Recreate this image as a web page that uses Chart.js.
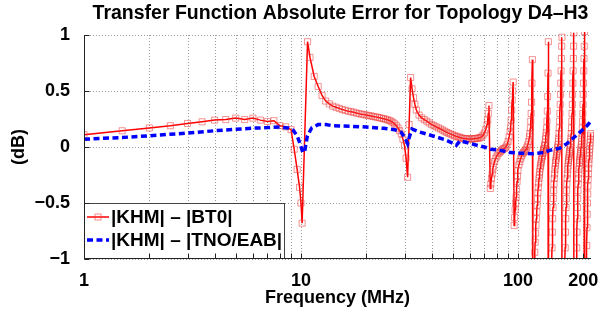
<!DOCTYPE html>
<html><head><meta charset="utf-8">
<script src="https://cdn.jsdelivr.net/npm/chart.js@4.4.0/dist/chart.umd.min.js"></script>
<style>html,body{margin:0;padding:0;background:#fff}</style>
</head><body>
<canvas id="c" width="614" height="313"></canvas>
<script>
// ---------- data ----------
const titleText = 'Transfer Function Absolute Error for Topology D4\u2013H3';
const xAxisTitle = 'Frequency (MHz)';
const yAxisTitle = '(dB)';
const seriesNames = ['|KHM| \u2013 |BT0|', '|KHM| \u2013 |TNO/EAB|'];

const xTickValues = [1,2,3,4,5,6,7,8,9,10,20,30,40,50,60,70,80,90,100,200];
const xTickLabels = ['1','','','','','','','','','10','','','','','','','','','100','200'];
const yTickValues = [-1,-0.5,0,0.5,1];
const yTickLabels = ['\u22121','\u22120.5','0','0.5','1'];

// |KHM| - |BT0|  (frequency in MHz, error in dB)
const freqBT0 = [
1.0,1.5,2.0,2.5,3.0,3.5,4.0,4.5,5.0,5.5,6.0,6.5,7.0,7.5,8.0,8.5,
9.0,9.3,9.6,9.85,10.0,10.12,10.72,11.0,11.5,12.0,12.5,13.0,13.5,14.0,14.5,
15,15.5,16,16.5,17,17.5,18,18.5,19,19.5,20,20.5,21,21.5,22,22.5,23,23.5,24,24.5,
25,25.5,26,26.5,27,27.5,28,28.5,29,29.5,30,30.5,31,31.5,32,
32.5,33,33.5,34,35,36,37,38,39,40,41,42,43,44,45,46,47,48,49,50,51,52,53,54,55,
56,57,58,59,60,61,62,63,64,65,66,67,68,69,70,71,72,72.5,73,73.5,
74.5,75,75.5,76,76.5,77,78,79,80,81,82,83,84,85,86,87,88,89,90,91,92,92.5,93,93.5,94,94.5,95,
96,96.5,97,97.5,98,98.5,99,99.5,100,101,102,103,104,105,106,107,108,109,110,111,112,113,113.5,114,114.5,115,115.5,116,116.5,
117,117.5,118,118.5,119,119.5,120,120.5,121,121.5,122,122.5,123,123.5,124,124.5,125,125.5,126,126.5,127,127.5,128,128.5,129,129.5,130,130.5,131,131.5,132,132.5,133,133.5,134,134.5,135,135.5,136,136.5,137,137.5,138,
138.5,139,139.5,140,140.5,141,141.5,142,142.5,143,143.5,144,144.5,145,145.5,146,146.5,147,147.5,148,148.5,149,149.5,150,150.5,151,151.5,152,152.5,153,153.5,154,154.5,155,155.5,156,156.5,157,157.5,158,158.5,159,159.5,
160,160.5,161,161.5,162,162.5,163,163.5,164,164.5,165,165.5,166,166.5,167,167.5,168,168.5,169,169.5,170,170.5,171,171.5,172,172.5,173,173.5,174,174.5,175,175.5,176,176.5,177,177.5,178,178.5,179,179.5,180,180.5,181,
181.5,182,182.5,183,183.5,184,184.5,185,185.5,186,186.5,187,187.5,188,188.5,189,189.5,190,190.5,191,191.5,192,192.5,193,193.5,194,194.5,195,195.5,196,196.5,197,197.5,198,198.5,199,199.5,200,200.5,201,201.5,202,202.5,
203,203.5,204,204.5,205,205.5,206,206.5,207,207.5,208,208.5,209,209.5,210,210.5,211,211.5,212,212.5,213,213.5,214,214.5,215,215.5,216,216.5
];
const errBT0 = [
0.11,0.145,0.17,0.19,0.21,0.225,0.24,0.245,0.258,0.245,0.258,0.24,0.228,0.235,0.19,0.18,
0.155,-0.02,-0.2,-0.36,-0.5,-0.68,0.94,0.8,0.63,0.54,0.46,0.41,0.385,0.365,0.355,
0.345,0.335,0.327,0.32,0.315,0.31,0.303,0.298,0.293,0.289,0.285,0.281,0.277,0.273,0.269,0.265,0.261,0.257,0.253,0.248,
0.243,0.237,0.23,0.22,0.207,0.19,0.17,0.145,0.115,0.07,0.01,-0.1,-0.27,0.2,0.62,
0.52,0.44,0.38,0.33,0.285,0.26,0.245,0.23,0.215,0.2,0.19,0.18,0.17,0.16,0.15,0.14,0.13,0.122,0.115,0.108,0.1,0.095,0.09,0.085,0.08,
0.077,0.075,0.073,0.072,0.072,0.072,0.073,0.074,0.076,0.078,0.08,0.085,0.09,0.105,0.125,0.155,0.2,0.24,0.3,0.37,
-0.37,-0.33,-0.28,-0.24,-0.2,-0.17,-0.13,-0.1,-0.08,-0.06,-0.05,-0.04,-0.03,-0.02,-0.015,-0.01,0.0,0.02,0.05,0.09,0.14,0.18,0.24,0.33,0.42,0.5,0.58,
-0.7,-0.63,-0.56,-0.5,-0.45,-0.38,-0.31,-0.26,-0.21,-0.16,-0.13,-0.1,-0.08,-0.06,-0.05,-0.04,-0.03,-0.02,0.0,0.02,0.05,0.09,0.12,0.17,0.23,0.3,0.4,0.57,0.78,
-2.0,-1.6,-1.35,-1.18,-1.05,-0.94,-0.85,-0.77,-0.7,-0.64,-0.58,-0.52,-0.46,-0.41,-0.36,-0.32,-0.28,-0.25,-0.22,-0.19,-0.17,-0.15,-0.13,-0.11,-0.09,-0.08,-0.06,-0.05,-0.03,-0.02,-0.01,0.01,0.02,0.04,0.07,0.1,0.13,0.17,0.23,0.32,0.45,0.66,0.94,
-4,-3,-2.4,-2.0,-1.75,-1.55,-1.4,-1.28,-1.17,-1.06,-0.9,-0.76,-0.64,-0.54,-0.46,-0.39,-0.33,-0.28,-0.24,-0.2,-0.17,-0.14,-0.12,-0.1,-0.08,-0.06,-0.04,-0.02,0.0,0.02,0.05,0.08,0.12,0.17,0.23,0.3,0.38,0.47,0.57,0.68,0.79,0.9,0.98,
-4,-3,-2.4,-2.0,-1.75,-1.55,-1.4,-1.28,-1.17,-1.06,-0.9,-0.76,-0.64,-0.54,-0.46,-0.39,-0.33,-0.28,-0.24,-0.2,-0.17,-0.14,-0.12,-0.1,-0.08,-0.06,-0.04,-0.02,0.0,0.02,0.05,0.08,0.12,0.17,0.23,0.3,0.38,0.47,0.57,0.68,0.79,0.9,1.02,
-4,-3,-2.4,-2.0,-1.75,-1.55,-1.4,-1.28,-1.17,-1.06,-0.9,-0.76,-0.64,-0.54,-0.46,-0.39,-0.33,-0.28,-0.24,-0.2,-0.17,-0.14,-0.12,-0.1,-0.08,-0.06,-0.04,-0.02,0.0,0.02,0.05,0.08,0.12,0.17,0.23,0.3,0.38,0.47,0.57,0.68,0.79,0.9,1.03,
-4,-3,-2.4,-2.0,-1.7,-1.5,-1.32,-1.17,-1.04,-0.88,-0.72,-0.6,-0.5,-0.42,-0.35,-0.29,-0.24,-0.19,-0.15,-0.11,-0.08,-0.05,-0.02,0.01,0.04,0.07,0.1,0.12
];

// |KHM| - |TNO/EAB|
const freqTNO = [1.0,1.5,2,3,4,5,6,7,8,8.7,9.2,9.6,9.9,10.2,10.4,10.7,11.2,12,13,14,17,20,24,27,29,30.2,31,31.7,32.5,35,38,42,46,50,52,54,58,64,70,75,83,92,102,117,131,140,156,168,180,190,200,208,216.5];
const errTNO  = [0.07,0.085,0.1,0.125,0.145,0.158,0.168,0.173,0.178,0.17,0.15,0.1,0.03,-0.05,-0.04,0.1,0.17,0.2,0.2,0.19,0.185,0.178,0.167,0.155,0.13,0.08,0.03,0.1,0.16,0.135,0.115,0.09,0.065,0.035,0.015,0.055,0.04,0.018,0.0,-0.02,-0.03,-0.05,-0.055,-0.06,-0.05,-0.03,-0.01,0.03,0.08,0.12,0.16,0.19,0.23];

// ---------- chart ----------
const FONT = "'Liberation Sans', Arial, Helvetica, sans-serif";
Chart.defaults.font.family = FONT;
Chart.defaults.color = '#000';

const overlay = {
  id: 'overlay',
  beforeDatasetsDraw(chart) {
    // dotted grid
    const {ctx, chartArea: a, scales: {x, y}} = chart;
    ctx.save();
    ctx.strokeStyle = '#9a9a9a'; ctx.lineWidth = 1; ctx.setLineDash([1, 2]);
    ctx.beginPath();
    xTickValues.forEach(v => {
      const px = Math.round(x.getPixelForValue(v)) + 0.5;
      ctx.moveTo(px, a.top); ctx.lineTo(px, a.bottom);
    });
    yTickValues.forEach(v => {
      const py = Math.round(y.getPixelForValue(v)) + 0.5;
      ctx.moveTo(a.left, py); ctx.lineTo(a.right, py);
    });
    ctx.stroke();
    ctx.restore();
  },
  afterDatasetsDraw(chart) {
    const {ctx, chartArea: a, scales: {x, y}} = chart;
    ctx.save();
    // legend
    const lx = Math.round(a.left), lw = 201, lh = 56, ly = Math.round(a.bottom) - lh;
    ctx.fillStyle = '#fff';
    ctx.fillRect(lx, ly, lw, lh);
    ctx.strokeStyle = '#444'; ctx.lineWidth = 1; ctx.setLineDash([]);
    ctx.strokeRect(lx + 0.5, ly + 0.5, lw - 1, lh - 1);
    const rows = [ly + 14, ly + 37];
    ctx.strokeStyle = '#ff0000'; ctx.lineWidth = 1.5;
    ctx.beginPath(); ctx.moveTo(lx + 3, rows[0]); ctx.lineTo(lx + 25, rows[0]); ctx.stroke();
    ctx.strokeStyle = 'rgba(235,60,60,0.6)'; ctx.lineWidth = 1;
    ctx.strokeRect(lx + 14 - 3, rows[0] - 3, 6, 6);
    ctx.strokeStyle = '#0000ff'; ctx.lineWidth = 3.5; ctx.setLineDash([6, 3.5]);
    ctx.beginPath(); ctx.moveTo(lx + 3, rows[1]); ctx.lineTo(lx + 25, rows[1]); ctx.stroke();
    ctx.setLineDash([]);
    ctx.fillStyle = '#000';
    ctx.font = 'bold 19px ' + FONT;
    ctx.textBaseline = 'middle'; ctx.textAlign = 'left';
    ctx.fillText(seriesNames[0], lx + 27, rows[0] + 1);
    ctx.fillText(seriesNames[1], lx + 27, rows[1] + 1);
    // axes lines
    ctx.strokeStyle = '#222'; ctx.lineWidth = 1;
    const L = Math.round(a.left) + 0.5, B = Math.round(a.bottom) - 0.5;
    ctx.beginPath(); ctx.moveTo(L, a.top); ctx.lineTo(L, B); ctx.lineTo(a.right, B); ctx.stroke();
    // inward ticks
    ctx.beginPath();
    xTickValues.forEach(v => {
      const px = Math.round(x.getPixelForValue(v)) + 0.5;
      ctx.moveTo(px, B); ctx.lineTo(px, B - 5);
    });
    yTickValues.forEach(v => {
      const py = Math.round(y.getPixelForValue(v)) + 0.5;
      ctx.moveTo(L, py); ctx.lineTo(L + 5, py);
    });
    ctx.stroke();
    // title
    ctx.font = 'bold 19.5px ' + FONT;
    ctx.textAlign = 'center'; ctx.textBaseline = 'alphabetic';
    ctx.fillText(titleText, (a.left + a.right) / 2 + 3, 19);
    ctx.restore();
  }
};

new Chart(document.getElementById('c'), {
  type: 'line',
  data: {
    datasets: [
      {
        label: seriesNames[0],
        data: freqBT0.map((f, i) => ({x: f, y: errBT0[i]})),
        borderColor: '#ff0000', borderWidth: 1.5, tension: 0,
        pointStyle: 'rect', pointRadius: 4.3,
        pointBorderColor: 'rgba(235,60,60,0.55)', pointBackgroundColor: 'rgba(0,0,0,0)', pointBorderWidth: 1,
        clip: {left: 0, right: 3, top: 3, bottom: 0},
        order: 1
      },
      {
        label: seriesNames[1],
        data: freqTNO.map((f, i) => ({x: f, y: errTNO[i]})),
        borderColor: '#0000ff', borderWidth: 3.5, borderDash: [6, 3.5], tension: 0,
        pointRadius: 0,
        clip: {left: 0, right: 3, top: 3, bottom: 0},
        order: 0
      }
    ]
  },
  options: {
    responsive: false, animation: false, devicePixelRatio: 1,
    events: [],
    layout: {padding: {top: 35, right: 23, left: 0, bottom: 0}},
    plugins: {legend: {display: false}, title: {display: false}, tooltip: {enabled: false}},
    scales: {
      x: {
        type: 'logarithmic', min: 1, max: 217,
        afterBuildTicks: s => { s.ticks = xTickValues.map(v => ({value: v})); },
        afterFit: s => { s.height = 54; },
        ticks: {autoSkip: false, maxRotation: 0, minRotation: 0, padding: 3,
          font: {size: 18, weight: 'bold'}, color: '#000',
          callback: (v, i) => xTickLabels[i]},
        grid: {display: false},
        border: {display: false},
        title: {display: true, text: xAxisTitle, font: {size: 18, weight: 'bold'}, color: '#000', padding: {top: 0, bottom: 4}}
      },
      y: {
        type: 'linear', min: -1, max: 1,
        afterBuildTicks: s => { s.ticks = yTickValues.map(v => ({value: v})); },
        afterFit: s => { s.width = 84; },
        ticks: {autoSkip: false, padding: 6, font: {size: 18, weight: 'bold'}, color: '#000',
          callback: (v, i) => yTickLabels[i]},
        grid: {display: false},
        border: {display: false},
        title: {display: true, text: yAxisTitle, font: {size: 18, weight: 'bold'}, color: '#000', padding: {top: 8, bottom: 0}}
      }
    }
  },
  plugins: [overlay]
});
</script>
</body></html>
